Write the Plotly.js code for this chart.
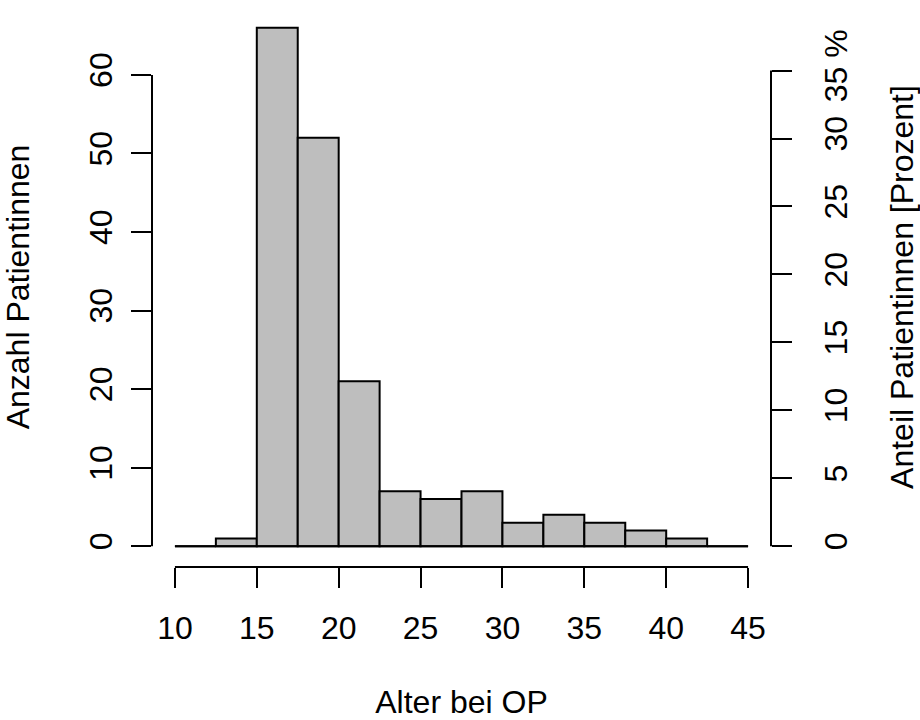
<!DOCTYPE html>
<html><head><meta charset="utf-8">
<script src="https://cdn.plot.ly/plotly-3.0.1.min.js"></script>
<style>body{margin:0;background:#fff}#chart{width:920px;height:720px}</style>
</head><body><div id="chart"></div>
<script>
const binEdges = [10,12.5,15,17.5,20,22.5,25,27.5,30,32.5,35,37.5,40,42.5,45];
const counts = [0,1,66,52,21,7,6,7,3,4,3,2,1,0];
const xTicks = [10,15,20,25,30,35,40,45];
const yTicks = [0,10,20,30,40,50,60];
const pctTicks = [0,5,10,15,20,25,30,35];
const pctLabels = ['0','5','10','15','20','25','30','35 %'];
const xTitle = 'Alter bei OP';
const yTitle = 'Anzahl Patientinnen';
const y2Title = 'Anteil Patientinnen [Prozent]';

const N = counts.reduce((a,b)=>a+b,0);
const centers = counts.map((c,i)=>(binEdges[i]+binEdges[i+1])/2);
const widths = counts.map((c,i)=>binEdges[i+1]-binEdges[i]);
const xMin = binEdges[0], xMax = binEdges[binEdges.length-1];
const xSpan = xMax - xMin;
const yMax = Math.max(...counts);
const xr = [xMin - 0.04*xSpan, xMax + 0.04*xSpan];
const yr = [-0.04*yMax, yMax*1.04];
const y2r = yr.map(v => v/N*100);

const FONT = 'Liberation Sans, Arial, sans-serif';
const lineStyle = {color:'#000', width:2};

const traces = [
  {type:'bar', x:centers, y:counts, width:widths,
   marker:{color:'#BEBEBE', line:{color:'#000', width:2}},
   hoverinfo:'skip', showlegend:false},
  {type:'scatter', mode:'lines', x:[xMin, xMax], y:[0,0],
   line:{color:'#000', width:2}, hoverinfo:'skip', showlegend:false},
  {type:'scatter', mode:'lines', x:[xMin], y:[0], yaxis:'y2',
   line:{width:0}, hoverinfo:'skip', showlegend:false, opacity:0}
];

const layout = {
  width:920, height:720,
  margin:{l:152, r:149, t:7, b:153},
  paper_bgcolor:'#fff', plot_bgcolor:'#fff',
  font:{family:FONT, size:32, color:'#000'},
  bargap:0,
  xaxis:{range:xr, tickvals:xTicks, ticktext:xTicks.map(String),
    ticks:'outside', ticklen:20, tickwidth:2, tickcolor:'#000',
    showline:false, showgrid:false, zeroline:false,
    ticklabelstandoff:13,
    title:{text:xTitle, font:{size:32}, standoff:60}},
  yaxis:{range:yr, tickvals:yTicks, ticktext:yTicks.map(String),
    tickangle:-90, ticks:'outside', ticklen:20, tickwidth:2, tickcolor:'#000',
    showline:false, showgrid:false, zeroline:false,
    ticklabelstandoff:6,
    title:{text:yTitle, font:{size:32}, standoff:59}},
  yaxis2:{range:y2r, overlaying:'y', side:'right',
    tickvals:pctTicks, ticktext:pctLabels,
    tickangle:-90, ticks:'outside', ticklen:20, tickwidth:2, tickcolor:'#000',
    showline:false, showgrid:false, zeroline:false,
    ticklabelstandoff:17,
    title:{text:y2Title, font:{size:32}, standoff:53}},
  shapes:[
    {type:'line', xref:'x', yref:'paper', x0:xTicks[0], x1:xTicks[xTicks.length-1], y0:0, y1:0, line:lineStyle},
    {type:'line', xref:'paper', yref:'y', x0:0, x1:0, y0:yTicks[0], y1:yTicks[yTicks.length-1], line:lineStyle},
    {type:'line', xref:'paper', yref:'y2', x0:1, x1:1, y0:pctTicks[0], y1:pctTicks[pctTicks.length-1], line:lineStyle}
  ]
};

Plotly.newPlot('chart', traces, layout, {staticPlot:true, displayModeBar:false});
</script></body></html>
